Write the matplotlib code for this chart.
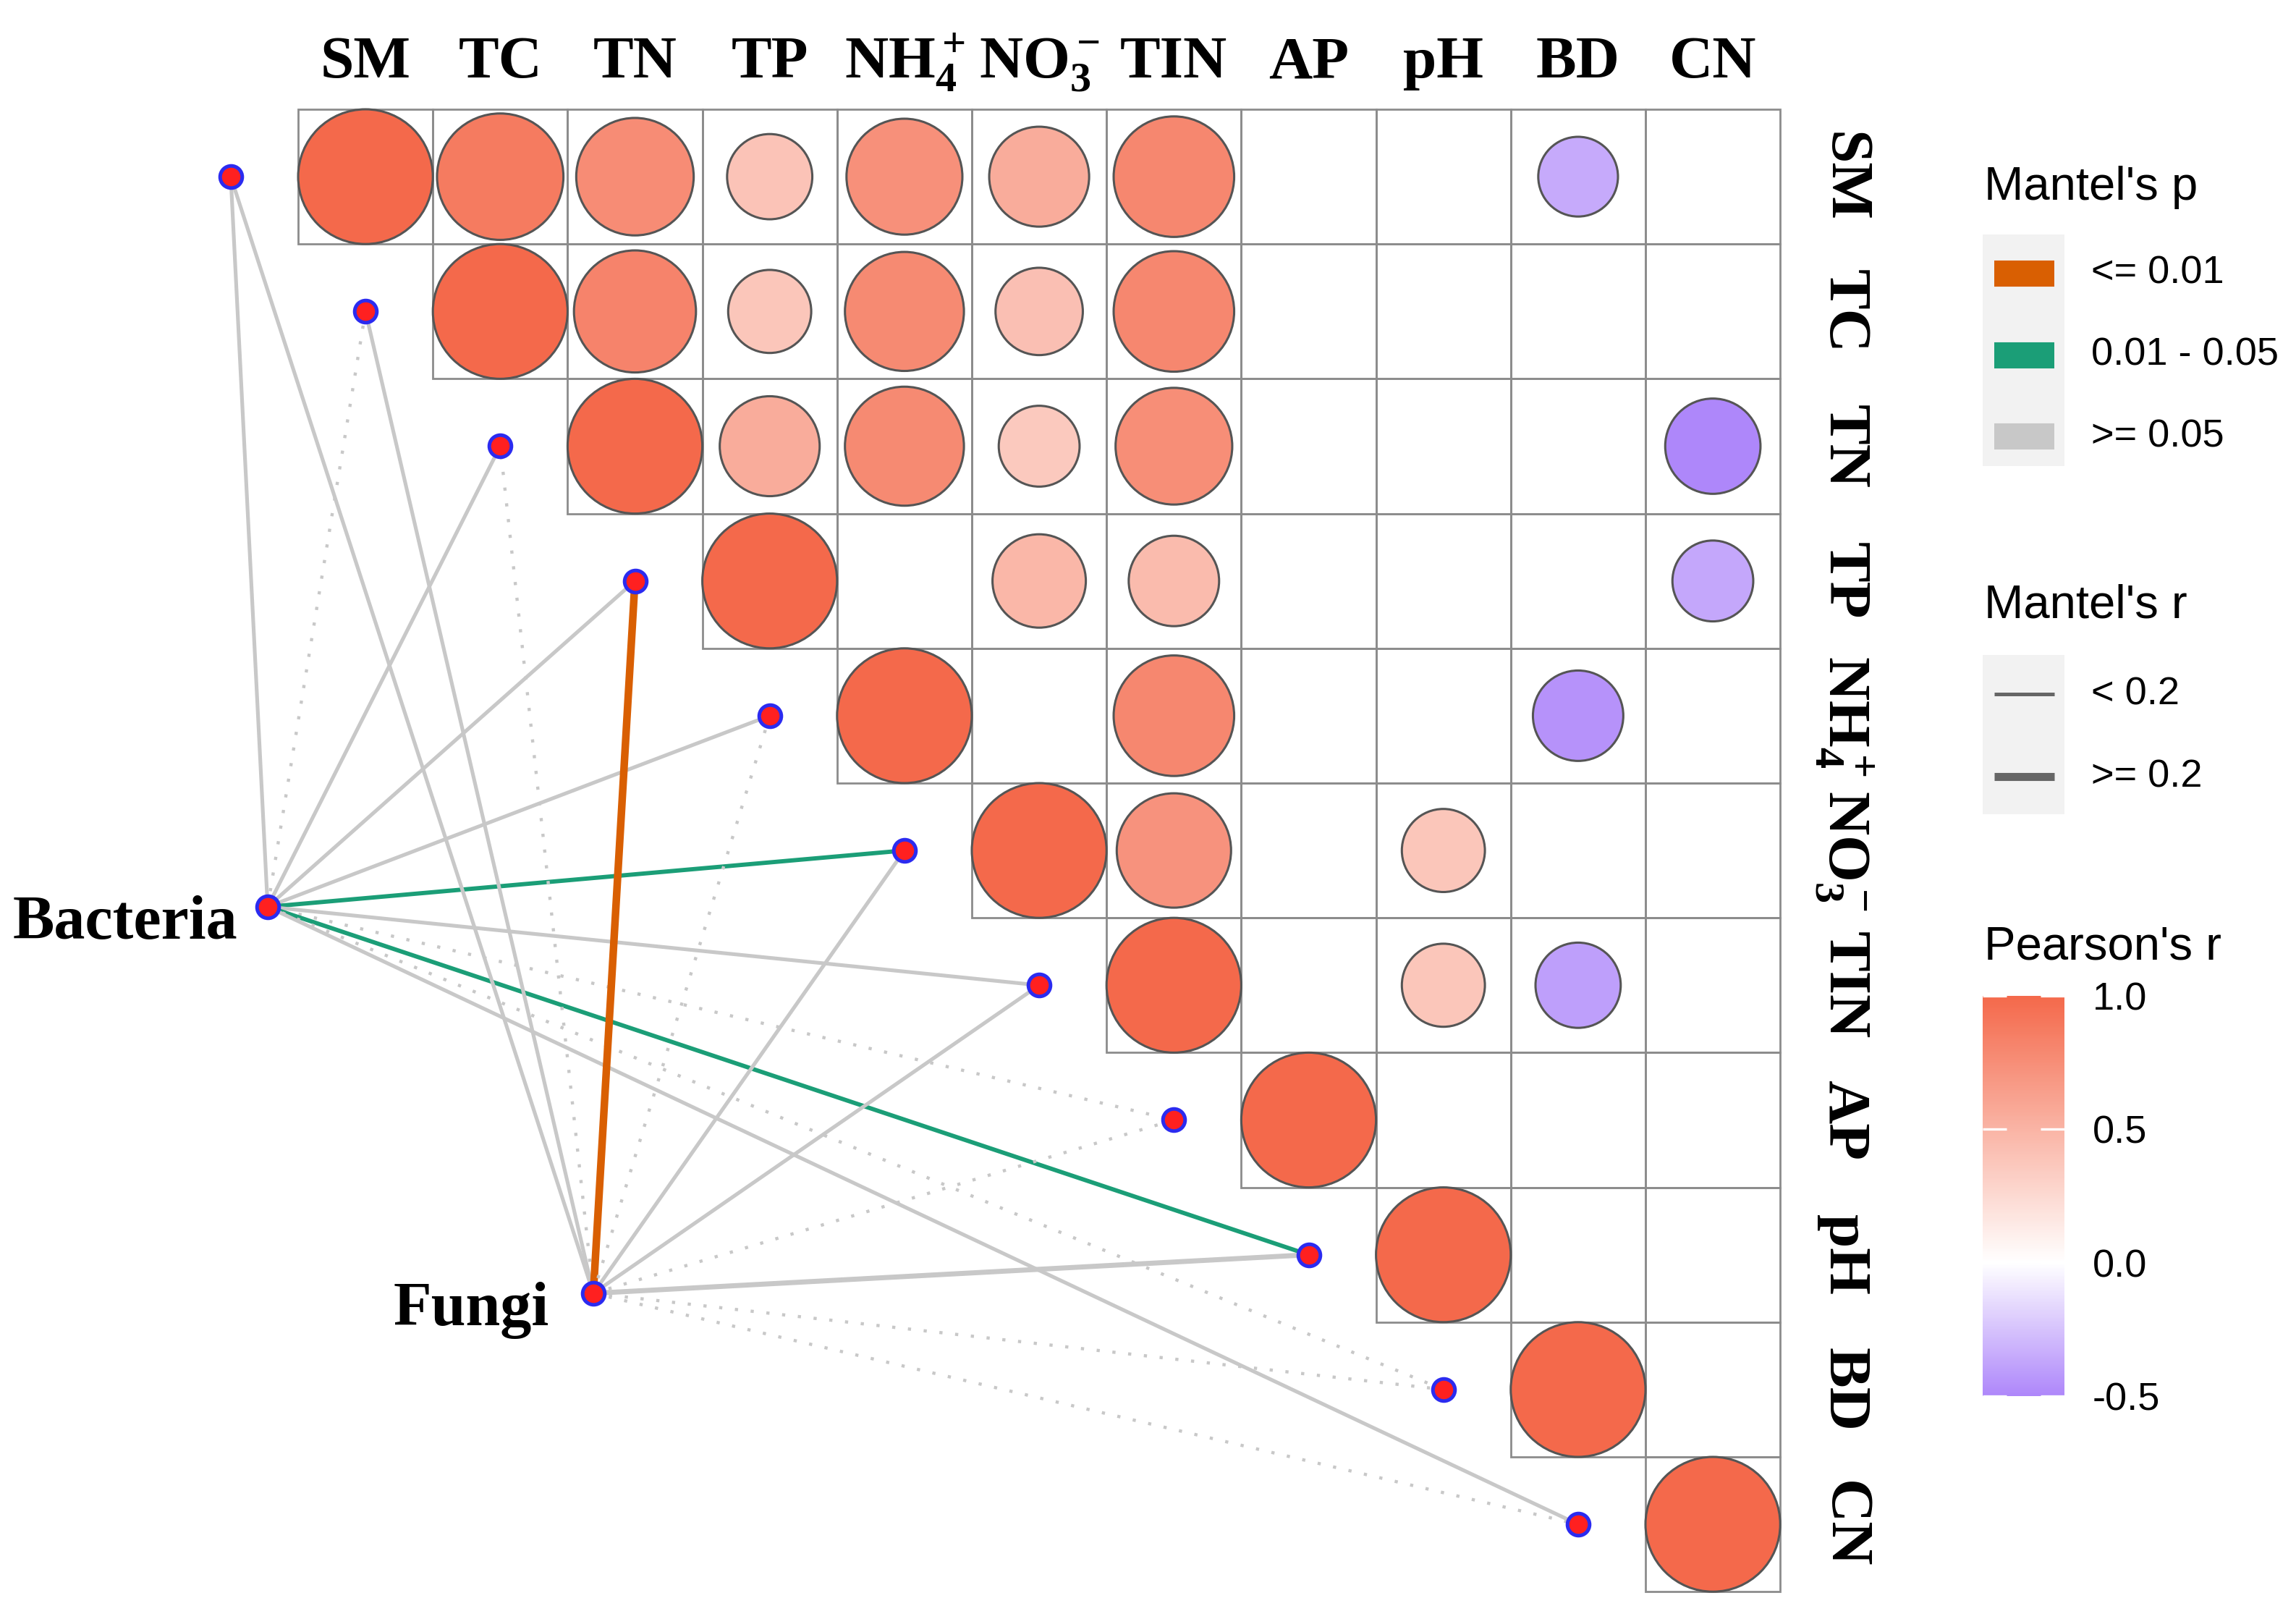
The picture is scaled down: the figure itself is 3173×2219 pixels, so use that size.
import numpy as np
import matplotlib.pyplot as plt
from matplotlib.patches import Circle, Rectangle
from matplotlib.colors import LinearSegmentedColormap, Normalize
from matplotlib.cm import ScalarMappable

plt.rcParams['mathtext.fontset'] = 'custom'
plt.rcParams['mathtext.rm'] = 'Liberation Serif'
plt.rcParams['mathtext.bf'] = 'Liberation Serif:bold'
plt.rcParams['mathtext.it'] = 'Liberation Serif:italic'

nan = np.nan

# environmental variables (rows = columns of the matrix)
env_labels = ['SM', 'TC', 'TN', 'TP', r'$\mathbf{NH_4^+}$', r'$\mathbf{NO_3^-}$',
              'TIN', 'AP', 'pH', 'BD', 'CN']

# Pearson's r, upper triangle (nan = not shown)
pearson_r = [
    [1.00, 0.88, 0.76, 0.40, 0.74, 0.55, 0.80, nan, nan, -0.35, nan],
    [nan, 1.00, 0.82, 0.38, 0.78, 0.42, 0.80, nan, nan, nan, nan],
    [nan, nan, 1.00, 0.55, 0.78, 0.36, 0.75, nan, nan, nan, -0.50],
    [nan, nan, nan, 1.00, nan, 0.48, 0.45, nan, nan, nan, -0.36],
    [nan, nan, nan, nan, 1.00, nan, 0.80, nan, nan, -0.45, nan],
    [nan, nan, nan, nan, nan, 1.00, 0.72, nan, 0.38, nan, nan],
    [nan, nan, nan, nan, nan, nan, 1.00, nan, 0.38, -0.40, nan],
    [nan, nan, nan, nan, nan, nan, nan, 1.00, nan, nan, nan],
    [nan, nan, nan, nan, nan, nan, nan, nan, 1.00, nan, nan],
    [nan, nan, nan, nan, nan, nan, nan, nan, nan, 1.00, nan],
    [nan, nan, nan, nan, nan, nan, nan, nan, nan, nan, 1.00],
]

# Mantel test: species groups vs each env variable
species = ['Bacteria', 'Fungi']
# p class: 0 -> <= 0.01, 1 -> 0.01 - 0.05, 2 -> >= 0.05
mantel_p_bacteria = [2, 2, 2, 2, 2, 1, 2, 2, 1, 2, 2]
mantel_p_fungi = [2, 2, 2, 0, 2, 2, 2, 2, 2, 2, 2]
# Mantel's r (negative ones drawn dotted)
mantel_r_bacteria = [0.10, -0.05, 0.10, 0.10, 0.10, 0.15, 0.10, -0.05, 0.15, -0.05, 0.10]
mantel_r_fungi = [0.10, 0.10, -0.05, 0.45, -0.05, 0.10, 0.10, -0.05, 0.22, -0.05, -0.05]

p_colors = ['#D95F02', '#1B9E77', '#C8C8C8']
p_labels = ['<= 0.01', '0.01 - 0.05', '>= 0.05']
r_labels = ['< 0.2', '>= 0.2']

# anchor points of the two species groups (cell units)
species_xy = [(-0.726, 5.418), (1.691, 8.286)]

# linear scale -0.5 .. 1.0 with white at 0
cmap = LinearSegmentedColormap.from_list(
    'pr', [(0.0, '#AE87FA'), (1 / 3, '#FFFFFF'), (1.0, '#F4694B')])
norm = Normalize(vmin=-0.5, vmax=1.0)

W, H = 3173, 2219
fig = plt.figure(figsize=(W / 200, H / 200), dpi=200)

cell = 186.2
x0 = -0.5 - 412 / cell
y0 = -0.5 - 151 / cell
ax = fig.add_axes([0, 0, 2631 / W, 1])
ax.set_xlim(x0, x0 + 2631 / cell)
ax.set_ylim(y0 + H / cell, y0)
ax.axis('off')

n = len(env_labels)
mat = np.array(pearson_r)

# grid cells and circles
for i in range(n):
    for j in range(i, n):
        ax.add_patch(Rectangle((j - 0.5, i - 0.5), 1, 1, fill=False,
                               ec='#8C8C8C', lw=1.0, zorder=1))
        v = mat[i, j]
        if not np.isnan(v):
            ax.add_patch(Circle((j, i), 0.5 * np.sqrt(abs(v)), fc=cmap(norm(v)),
                                ec='#555555', lw=1.1, zorder=3))

# Mantel links
env_xy = [(i - 1, i) for i in range(n)]
for s, (sx, sy) in enumerate(species_xy):
    pcls = [mantel_p_bacteria, mantel_p_fungi][s]
    rval = [mantel_r_bacteria, mantel_r_fungi][s]
    for i, (ex, ey) in enumerate(env_xy):
        lw = 1.3 + 5.5 * abs(rval[i])
        if rval[i] < 0:
            ax.plot([sx, ex], [sy, ey], color=p_colors[pcls[i]], lw=lw,
                    ls=(0, (1, 4)), dash_capstyle='butt', zorder=2)
        else:
            ax.plot([sx, ex], [sy, ey], color=p_colors[pcls[i]], lw=lw,
                    solid_capstyle='butt', zorder=2)

# nodes
ex_all = [p[0] for p in env_xy] + [p[0] for p in species_xy]
ey_all = [p[1] for p in env_xy] + [p[1] for p in species_xy]
ax.plot(ex_all, ey_all, 'o', ms=11, mfc='#FF2020', mec='#2B2BF0', mew=1.8, zorder=5)

# species labels
for k, name in enumerate(species):
    ax.annotate(name, species_xy[k], xytext=([-15, -22][k], -16),
                textcoords='offset points', ha='right', va='baseline',
                fontsize=31, fontweight='bold', family='Liberation Serif')

# axis labels: top and right
for j, lab in enumerate(env_labels):
    ax.text(j, -0.736, lab, ha='center', va='baseline', fontsize=30,
            fontweight='bold', family='Liberation Serif')
    ax.text(10.864, j, lab, ha='center', va='baseline', rotation=270,
            rotation_mode='anchor', fontsize=30, fontweight='bold',
            family='Liberation Serif')

# legends (drawn in figure pixel space)
lax = fig.add_axes([0, 0, 1, 1], facecolor='none')
lax.set_xlim(0, W)
lax.set_ylim(H, 0)
lax.axis('off')
sans = 'Liberation Sans'

lax.text(2742, 259, "Mantel's p", fontsize=23.5, family=sans, va='center', ha='left')
lax.add_patch(Rectangle((2740, 324), 113, 320, fc='#F2F2F2', ec='none'))
for k, (c, lab) in enumerate(zip(p_colors, p_labels)):
    yk = 378 + k * 112.5
    lax.plot([2756, 2839], [yk, yk], color=c, lw=13, solid_capstyle='butt')
    lax.text(2890, yk, lab, fontsize=19.5, family=sans, va='center', ha='left')

lax.text(2742, 836, "Mantel's r", fontsize=23.5, family=sans, va='center', ha='left')
lax.add_patch(Rectangle((2740, 905), 113, 220, fc='#F2F2F2', ec='none'))
for k, (w, lab) in enumerate(zip([1.8, 4.0], r_labels)):
    yk = 959 + k * 114
    lax.plot([2756, 2839], [yk, yk], color='#666666', lw=w, solid_capstyle='butt')
    lax.text(2890, yk, lab, fontsize=19.5, family=sans, va='center', ha='left')

lax.text(2742, 1309, "Pearson's r", fontsize=23.5, family=sans, va='center', ha='left')
cax = fig.add_axes([2740 / W, (H - 1929) / H, 113 / W, 553 / H])
cb = fig.colorbar(ScalarMappable(norm=norm, cmap=cmap), cax=cax)
cb.outline.set_visible(False)
cb.set_ticks([-0.5, 0.0, 0.5, 1.0])
cb.set_ticklabels(['-0.5', '0.0', '0.5', '1.0'])
cax.yaxis.set_ticks_position('both')
cax.tick_params(direction='in', length=12, width=1.2, color='white',
                labelsize=19.5, pad=14, labelleft=False, labelright=True)
for t in cax.get_yticklabels():
    t.set_family(sans)

fig.savefig('out.png', dpi=200, facecolor='white')
